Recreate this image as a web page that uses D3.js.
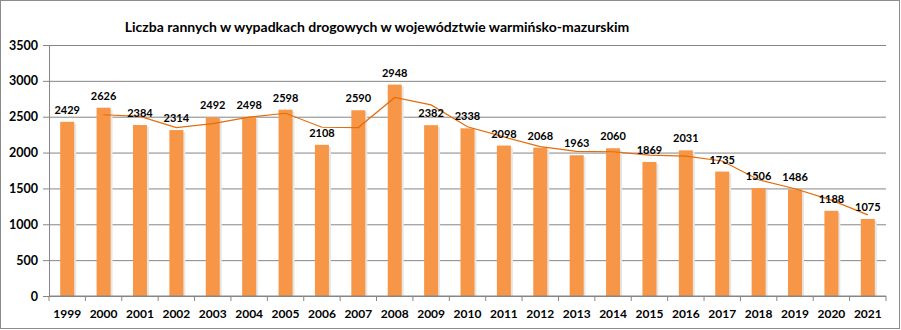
<!DOCTYPE html>
<html><head><meta charset="utf-8">
<script src="https://cdn.jsdelivr.net/npm/d3@7/dist/d3.min.js"></script>
<style>body{margin:0;background:#fff}svg{display:block}</style>
</head><body><svg id="c" width="901" height="330"></svg>
<script>
const title = "Liczba rannych w wypadkach drogowych w województwie warmińsko-mazurskim";
const years = ["1999","2000","2001","2002","2003","2004","2005","2006","2007","2008","2009","2010","2011","2012","2013","2014","2015","2016","2017","2018","2019","2020","2021"];
const values = [2429,2626,2384,2314,2492,2498,2598,2108,2590,2948,2382,2338,2098,2068,1963,2060,1869,2031,1735,1506,1486,1188,1075];
const yTicks = [0,500,1000,1500,2000,2500,3000,3500];

const svg = d3.select("#c");
const font = "Lato, 'Open Sans', sans-serif";
const m = {l:49, r:15, t:45, b:34};
const W = 901, H = 330;
svg.append("rect").attr("x",0.5).attr("y",0.5).attr("width",W-2).attr("height",H-2)
  .attr("fill","#fff").attr("stroke","#8c8c8c").attr("stroke-width",1);

const x = d3.scaleBand().domain(years).range([m.l, W-m.r]).paddingInner(0).paddingOuter(0);
const y = d3.scaleLinear().domain([0,3500]).range([H-m.b, m.t]);

// grid
const gy = svg.append("g").attr("transform",`translate(${m.l},0)`)
  .call(d3.axisLeft(y).tickValues(yTicks).tickFormat(d3.format("d")).tickSize(6).tickPadding(5));
gy.select(".domain").attr("stroke","#868686");
gy.selectAll(".tick line").attr("stroke","#868686");
gy.selectAll(".tick").append("line").attr("x1",0).attr("x2",W-m.r-m.l).attr("stroke","#868686");
gy.selectAll("text").attr("font-family",font).attr("font-weight","bold").attr("font-size",12.5).attr("fill","#000");

// bars with shadow
const bw = 14;
svg.append("g").selectAll("rect").data(values).join("rect")
  .attr("x",(d,i)=>x(years[i])+x.bandwidth()/2-bw/2+2)
  .attr("y",d=>y(d)+2).attr("width",bw).attr("height",d=>y(0)-y(d)-2)
  .attr("fill","#e6e6e6");
svg.append("g").selectAll("rect").data(values).join("rect")
  .attr("x",(d,i)=>x(years[i])+x.bandwidth()/2-bw/2)
  .attr("y",d=>y(d)).attr("width",bw).attr("height",d=>y(0)-y(d))
  .attr("fill","#f79646");

// x axis
const gx = svg.append("g").attr("transform",`translate(0,${y(0)})`);
gx.append("line").attr("x1",m.l).attr("x2",W-m.r).attr("stroke","#868686");
const bounds = years.map(d=>x(d)).concat([x(years[years.length-1])+x.bandwidth()]);
gx.selectAll("line.t").data(bounds).join("line").attr("class","t")
  .attr("x1",d=>d).attr("x2",d=>d).attr("y1",0).attr("y2",5).attr("stroke","#868686");
gx.selectAll("text").data(years).join("text")
  .attr("x",d=>x(d)+x.bandwidth()/2).attr("y",22).attr("text-anchor","middle")
  .attr("font-family",font).attr("font-weight","bold").attr("font-size",12).text(d=>d);

// 2-period moving average trendline
const ma = values.map((v,i)=> i===0?null:(v+values[i-1])/2);
const line = d3.line().defined(d=>d!==null).x((d,i)=>x(years[i])+x.bandwidth()/2).y(d=>y(d));
svg.append("path").datum(ma).attr("d",line).attr("fill","none").attr("stroke","#e46c0a").attr("stroke-width",1.2);

// labels
svg.append("g").selectAll("text").data(values).join("text")
  .attr("x",(d,i)=>x(years[i])+x.bandwidth()/2).attr("y",d=>y(d)-8)
  .attr("text-anchor","middle").attr("font-family",font).attr("font-weight","bold")
  .attr("font-size",11).text(d=>d);

// title
svg.append("text").attr("x",377).attr("y",32).attr("text-anchor","middle")
  .attr("font-family",font).attr("font-weight","bold").attr("font-size",14).text(title);
</script></body></html>
